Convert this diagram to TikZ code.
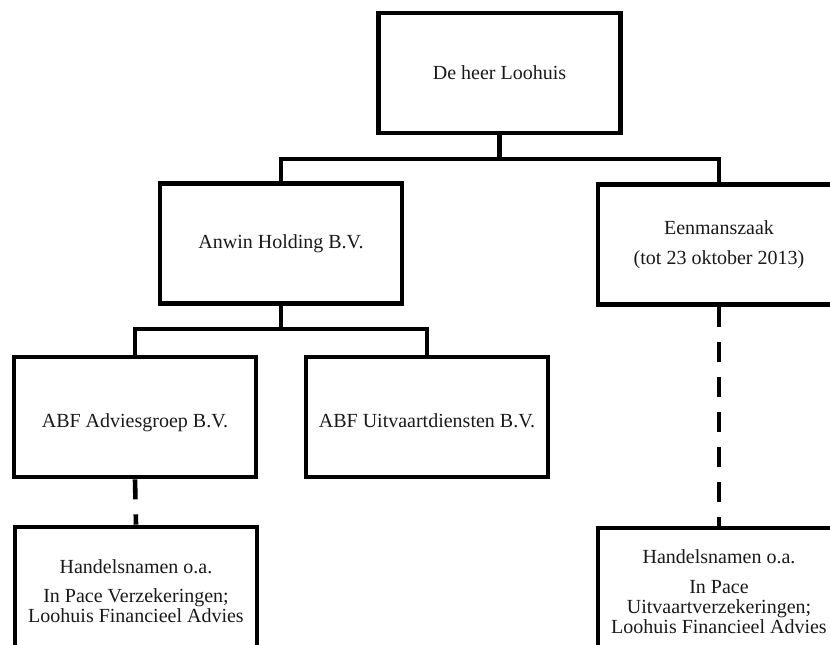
\documentclass[tikz,border=0pt]{standalone}
\usepackage{fontspec}
\setmainfont{Liberation Serif}
\begin{document}
\begin{tikzpicture}[x=1pt,y=-1pt,
  box/.style={draw=black, line width=4.6pt, line join=miter, minimum width=242pt, minimum height=120pt,
    inner sep=0pt, align=center, text=black!90, font=\fontsize{20}{30}\selectfont},
  lowtext/.style={text height=26pt, text depth=4.4pt},
  lowbox/.style={box, minimum height=128pt, font=\fontsize{20}{20}\selectfont},
  conn/.style={draw=black, line width=4.6pt, line join=miter},
  dconn/.style={draw=black, line width=4.6pt, dash pattern=on 20pt off 15pt}]
\useasboundingbox (0,0) rectangle (830,645);
\clip (0,0) rectangle (830,645);

\node[box] (top) at (499.5,73) {De heer Loohuis};
\node[box] (anwin) at (281,243.5) {Anwin Holding B.V.};
\node[box] (een) at (719,244.5) {Eenmanszaak\\(tot 23 oktober 2013)};
\node[box, lowtext] (abf) at (135,417) {ABF Adviesgroep B.V.};
\node[box, lowtext] (uit) at (427,417) {ABF Uitvaartdiensten B.V.};
\node[lowbox] (hl) at (136,591) {Handelsnamen o.a.\\[9pt]In Pace Verzekeringen;\\Loohuis Financieel Advies};
\node[lowbox] (hr) at (719,592) {Handelsnamen o.a.\\[10pt]In Pace\\Uitvaartverzekeringen;\\Loohuis Financieel Advies};

\coordinate (bar1) at (0,159);
\coordinate (bar2) at (0,329);

\draw[conn] (top.south) -- (top.south |- bar1);
\draw[conn] (anwin.north) |- (top.south |- bar1) -| (een.north);
\draw[conn] (anwin.south) -- (anwin.south |- bar2);
\draw[conn] (abf.north) |- (anwin.south |- bar2) -| (uit.north);
\draw[dconn] (abf.south) -- (hl.north);
\draw[dconn] (een.south) -- (hr.north);
\end{tikzpicture}
\end{document}
